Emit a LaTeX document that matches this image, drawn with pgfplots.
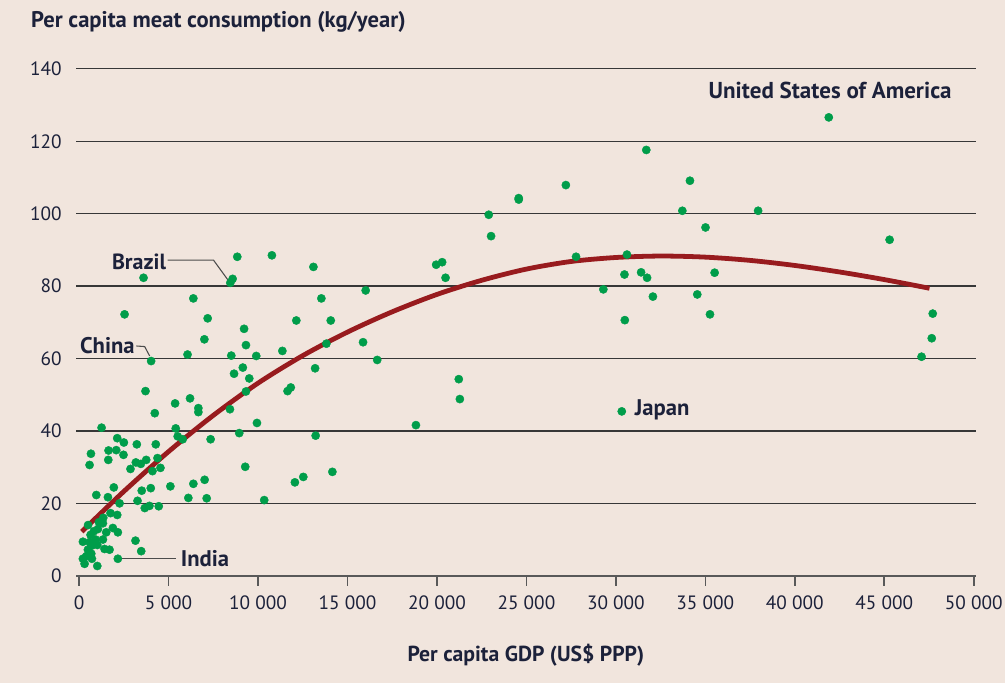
\documentclass[border=0pt]{standalone}
\usepackage{fontspec}
\setmainfont{PT Sans}
\usepackage{pgfplots}
\pgfplotsset{compat=1.18}
\definecolor{bg}{RGB}{241,229,221}
\definecolor{dotg}{RGB}{0,157,74}
\definecolor{curvec}{RGB}{152,27,30}
\definecolor{txt}{RGB}{28,33,58}
\definecolor{gridc}{RGB}{55,55,55}
\begin{document}
\begin{tikzpicture}[x=0.75pt,y=0.75pt]
\fill[bg] (0,0) rectangle (1007,684);
\node[anchor=west,inner sep=0,text=txt,font=\bfseries\fontsize{17}{20}\selectfont] at (31,662) {Per capita meat consumption (kg/year)};
\node[anchor=center,inner sep=0,text=txt,font=\bfseries\fontsize{16.3}{19}\selectfont] at (527,27) {Per capita GDP (US\$ PPP)};
\begin{axis}[
  at={(57.45pt,80.25pt)}, anchor=south west,
  scale only axis, width=676.4pt, height=381pt,
  xmin=-150, xmax=50150, ymin=0, ymax=140,
  clip=false,
  scaled x ticks=false, scaled y ticks=false,
  axis x line*=bottom, axis y line*=left,
  y axis line style={draw=none},
  x axis line style={draw=black!65, line width=1.5pt, -},
  tick align=outside,
  major tick length=7.5pt,
  xtick={0,5000,10000,15000,20000,25000,30000,35000,40000,45000,50000},
  xticklabels={0,5 000,10 000,15 000,20 000,25 000,30 000,35 000,40 000,45 000,50 000},
  ytick={0,20,40,60,80,100,120,140},
  yticklabels={0,20,40,60,80,100,120,140},
  xtick style={draw=black!65, line width=1.2pt},
  ytick style={draw=none},
  ymajorgrids,
  grid style={gridc, line width=0.9pt},
  ticklabel style={text=txt, font=\fontsize{14.5}{17}\selectfont},
  xticklabel style={yshift=-4pt},
]
\draw[black!70, line width=0.8pt] (axis cs:4947,87.16) -- (axis cs:7513,87.16) -- (axis cs:8366,81.37);
\draw[black!70, line width=0.8pt] (axis cs:3201,63.46) -- (axis cs:3664,63.3) -- (axis cs:3943,60.7);
\draw[black!70, line width=0.8pt] (axis cs:2381,4.68) -- (axis cs:5393,4.68);
\addplot[dotg, only marks, mark=*, mark size=3.1pt, mark options={draw=dotg, fill=dotg, line width=0.3pt}] table {
x y
212 9.4
585 9.3
920 10.0
1330 10.0
640 11.3
825 12.3
1050 12.9
1515 12.0
1885 13.2
2165 12.0
1330 14.5
1105 14.8
500 14.0
700 8.3
1350 16.0
1755 17.3
2130 16.8
1015 8.5
490 7.2
1420 7.4
1700 7.2
680 6.1
400 5.4
210 4.7
305 3.3
715 4.7
1015 2.7
2165 4.7
3150 9.7
3470 6.8
960 22.3
1940 24.4
1610 21.7
2260 20.0
3710 51.0
5365 47.6
6200 49.0
6665 46.3
6665 45.2
4230 44.9
1255 40.9
5400 40.7
2130 38.0
2500 36.8
3225 36.3
4285 36.3
5510 38.5
5790 37.7
7350 37.7
660 33.7
1645 34.6
2075 34.7
2480 33.4
585 30.6
1630 32.0
3170 31.3
3450 30.9
3750 32.0
4380 32.5
2870 29.5
4100 28.9
4545 29.8
3500 23.5
4005 24.2
5100 24.7
6385 25.4
7015 26.5
6105 21.5
7130 21.4
3265 20.7
3670 18.7
3930 19.3
4450 19.2
8450 80.9
8580 82.0
8840 88.1
10775 88.5
3600 82.3
6385 76.6
2540 72.2
7185 71.1
9220 68.2
7000 65.3
9325 63.7
6060 61.1
8505 60.8
9900 60.7
4025 59.3
9150 57.5
8660 55.8
9510 54.5
9325 50.9
8430 46.0
9940 42.2
8950 39.4
9285 30.1
10345 20.9
13095 85.3
13540 76.6
16015 78.8
12140 70.5
14065 70.5
11360 62.1
13820 64.1
15870 64.5
13190 57.3
16660 59.6
11650 51.0
11830 52.0
13220 38.7
14155 28.7
12060 25.8
12530 27.3
31700 117.6
27205 107.9
24570 104.3
24570 103.9
22895 99.7
23025 93.8
19955 85.9
20290 86.6
20480 82.3
27775 88.1
30620 88.7
30480 83.2
31410 83.8
31745 82.3
32070 77.1
29300 79.1
30500 70.6
21220 54.3
21280 48.8
18825 41.6
30330 45.4
41900 126.6
34140 109.1
33715 100.8
37950 100.8
35010 96.2
45300 92.8
35520 83.7
34550 77.7
35260 72.2
47710 72.4
47655 65.6
47085 60.5
};
\addplot[curvec, line width=3.6pt, smooth, no marks] coordinates {
(150,12.2) (2500,23.3) (5000,34.3) (7500,44.3) (10000,53.2) (12500,60.8) (15000,67.3) (17500,72.9) (20000,77.7) (22500,81.6) (25000,84.7) (27500,86.8) (30000,87.9) (32500,88.3) (35000,88.0) (37500,87.1) (40000,85.7) (42500,83.9) (45000,81.8) (47530,79.4)
};
\node[anchor=west,inner sep=0,text=txt,font=\bfseries\fontsize{17.3}{20}\selectfont] at (axis cs:35175,133.9) {United States of America};
\node[anchor=west,inner sep=0,text=txt,font=\bfseries\fontsize{16.5}{20}\selectfont] at (axis cs:1824,86.8) {Brazil};
\node[anchor=west,inner sep=0,text=txt,font=\bfseries\fontsize{17}{20}\selectfont] at (axis cs:39,63.65) {China};
\node[anchor=west,inner sep=0,text=txt,font=\bfseries\fontsize{17}{20}\selectfont] at (axis cs:5672,4.68) {India};
\node[anchor=west,inner sep=0,text=txt,font=\bfseries\fontsize{17}{20}\selectfont] at (axis cs:31048,45.7) {Japan};
\end{axis}
\end{tikzpicture}
\end{document}
